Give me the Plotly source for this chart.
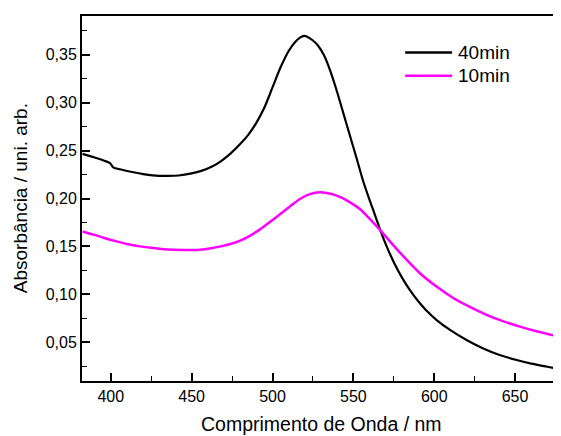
import plotly.graph_objects as go

# 40 min spectrum
wl_40 = [382.5, 390, 396, 399.5, 401.5, 407, 414, 420, 426, 434, 442, 450, 456, 462, 468, 474,
         480, 485, 490, 495, 500, 505, 510, 514, 517, 519.5, 522, 525, 528, 532, 536, 540,
         544, 548, 552, 556, 560, 563, 566.7, 570, 575, 580, 585, 590, 595, 601.7, 610, 620,
         630, 640, 651, 660, 670, 678.5]
abs_40 = [0.2466, 0.2428, 0.2395, 0.2370, 0.2326, 0.2300, 0.2274, 0.2255, 0.2242, 0.2236, 0.2240,
          0.2262, 0.2288, 0.2328, 0.2388, 0.2468, 0.2568, 0.2665, 0.2790, 0.2950, 0.3160,
          0.3370, 0.3540, 0.3635, 0.3680, 0.3698, 0.3685, 0.3650, 0.3600, 0.3490, 0.3320,
          0.3110, 0.2880, 0.2650, 0.2420, 0.2185, 0.1985, 0.1845, 0.1667, 0.1524, 0.1335,
          0.1176, 0.1042, 0.0929, 0.0833, 0.0728, 0.0625, 0.0522, 0.0436, 0.0368, 0.0313,
          0.0275, 0.0243, 0.0215]

# 10 min spectrum
wl_10 = [382.5, 390, 396, 403, 410, 418, 426, 435, 445, 455, 462, 468, 474, 480, 486, 492,
         498, 505, 511, 517, 523, 529.5, 536, 542, 548, 554, 560, 566.7, 573, 581, 591, 601,
         612, 622, 632, 642, 653, 665, 678.5]
abs_10 = [0.1656, 0.1620, 0.1588, 0.1555, 0.1525, 0.1500, 0.1482, 0.1467, 0.1462, 0.1465, 0.1480,
          0.1500, 0.1525, 0.1560, 0.1610, 0.1675, 0.1750, 0.1840, 0.1920, 0.1995, 0.2045,
          0.2066, 0.2050, 0.2014, 0.1960, 0.1890, 0.1790, 0.1667, 0.1545, 0.1395, 0.1222,
          0.1085, 0.0958, 0.0868, 0.0788, 0.0722, 0.0662, 0.0605, 0.0552]

series_names = ["40min", "10min"]
series_colors = ["#000000", "#ff00ff"]

x_ticks = [400, 450, 500, 550, 600, 650]
y_ticks = [0.05, 0.10, 0.15, 0.20, 0.25, 0.30, 0.35]
y_minor = [0.025, 0.075, 0.125, 0.175, 0.225, 0.275, 0.325, 0.375]

FONT = "Liberation Sans, Arial, sans-serif"

fig = go.Figure()
fig.add_trace(go.Scatter(x=wl_40, y=abs_40, mode="lines", name=series_names[0],
                         line=dict(color=series_colors[0], width=2.2, shape="spline", smoothing=0.8),
                         showlegend=False))
fig.add_trace(go.Scatter(x=wl_10, y=abs_10, mode="lines", name=series_names[1],
                         line=dict(color=series_colors[1], width=2.5, shape="spline", smoothing=0.8),
                         showlegend=False))

# manual legend (paper coordinates)
leg_y = [0.8997, 0.836]
for name, col, yy in zip(series_names, series_colors, leg_y):
    fig.add_shape(type="line", xref="paper", yref="paper", x0=0.6747, x1=0.7727, y0=yy, y1=yy,
                  line=dict(color=col, width=2.5))
    fig.add_annotation(xref="paper", yref="paper", x=0.781, y=yy, text=name, showarrow=False,
                       xanchor="left", yanchor="middle", font=dict(family=FONT, size=19, color="#000"))

# axis titles as annotations for precise placement
fig.add_annotation(xref="paper", yref="paper", x=0.5, y=-0.117, text="Comprimento de Onda / nm",
                   showarrow=False, xanchor="center", yanchor="middle",
                   font=dict(family=FONT, size=19.5, color="#000"))
fig.add_annotation(xref="paper", yref="paper", x=-0.128, y=0.5, text="Absorbância / uni. arb.",
                   showarrow=False, xanchor="center", yanchor="middle", textangle=-90,
                   font=dict(family=FONT, size=19, color="#000"))

# page body has an 8px margin, so the figure is sized/offset to compensate
fig.update_layout(
    width=553, height=428,
    margin=dict(l=73.5, r=0, t=7.5, b=54.5),
    paper_bgcolor="white", plot_bgcolor="white",
    separators=",.",
    font=dict(family=FONT, color="#000"),
)
fig.update_xaxes(
    automargin=False,
    range=[382.2, 678.4], tickvals=x_ticks, ticks="inside", ticklen=8, tickwidth=1.5,
    tickcolor="#000", minor=dict(dtick=25, ticks="inside", ticklen=5, tickwidth=1.2, tickcolor="#000"),
    showline=True, linecolor="#000", linewidth=2, mirror=True, showgrid=False, zeroline=False,
    tickfont=dict(size=16, family=FONT),
)
fig.update_yaxes(
    automargin=False,
    range=[0.0094, 0.3906], tickvals=y_ticks, tickformat=".2f", ticks="inside", ticklen=8,
    tickwidth=1.5, tickcolor="#000",
    minor=dict(tickvals=y_minor, ticks="inside", ticklen=5, tickwidth=1.2, tickcolor="#000"),
    showline=True, linecolor="#000", linewidth=2, mirror=False, showgrid=False, zeroline=False,
    tickfont=dict(size=16, family=FONT),
)

fig.write_html("out.html")
